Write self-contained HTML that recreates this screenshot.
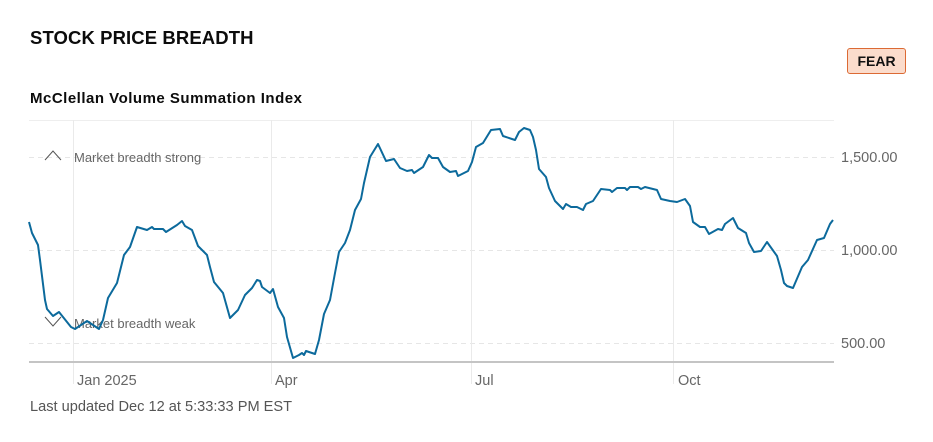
<!DOCTYPE html>
<html><head><meta charset="utf-8"><style>
body{margin:0;background:#fff;width:933px;height:442px;overflow:hidden;font-family:"Liberation Sans",Arial,sans-serif;position:relative}
.t{position:absolute;left:30px;top:27px;font-size:18.5px;font-weight:bold;color:#0c0c0c;letter-spacing:0.1px}
.fear{position:absolute;left:847px;top:48px;width:59px;height:26px;box-sizing:border-box;background:#fbdccc;border:1px solid #dc6a34;border-radius:3px;font-size:14px;font-weight:bold;text-align:center;line-height:24px;color:#111}
.s{position:absolute;left:30px;top:90px;font-size:15px;font-weight:bold;color:#0c0c0c;letter-spacing:0.5px}
.f{position:absolute;left:30px;top:399px;font-size:14.6px;color:#555}
</style></head><body>
<div class="t">STOCK PRICE BREADTH</div>
<div class="fear">FEAR</div>
<div class="s">McClellan Volume Summation Index</div>
<svg width="933" height="442" style="position:absolute;left:0;top:0">
<line x1="29" y1="120.5" x2="834" y2="120.5" stroke="#eee"/>
<g stroke="#e6e6e6" stroke-dasharray="5,4"><line x1="29" y1="157.5" x2="834" y2="157.5"/><line x1="29" y1="250.5" x2="834" y2="250.5"/><line x1="29" y1="343.5" x2="834" y2="343.5"/></g>
<g stroke="#eaeaea"><line x1="73.5" y1="120" x2="73.5" y2="384"/><line x1="271.5" y1="120" x2="271.5" y2="384"/><line x1="471.5" y1="120" x2="471.5" y2="384"/><line x1="673.5" y1="120" x2="673.5" y2="384"/></g>
<line x1="29" y1="362" x2="834" y2="362" stroke="#c4c4c4" stroke-width="2"/>
<polyline fill="none" stroke="#555" stroke-width="1" points="45,160 53,151 61,160"/>
<polyline fill="none" stroke="#555" stroke-width="1" points="45,317 53,326 61,317"/>
<g font-size="13" fill="#666"><text x="74" y="162">Market breadth strong</text><text x="74" y="328">Market breadth weak</text></g>
<polyline fill="none" stroke="#0c6a9c" stroke-width="2" stroke-linejoin="round" points="29,222 32,233 38,245 40,260 45,300 47,309 53,316 59,312 71,327 75,329 87,321 99,329 103,320 108,298 117,283 124,255 130,247 137,227 147,230 152,227 154,229 163,229 166,232 177,225 182,221 185,226 192,230 198,246 207,255 210,267 214,282 223,293 230,318 238,310 245,295 252,288 257,280 260,281 262,287 270,293 273,289 278,307 284,318 287,337 293,358 299,355 302,353 304,355 306,351 315,354 319,340 324,314 330,300 335,273 339,252 345,243 350,230 355,210 361,199 364,183 370,157 378,144 386,161 394,159 400,168 407,171 412,170 414,173 423,167 429,155 432,158 438,158 443,167 450,172 456,171 458,176 468,171 472,162 476,147 483,143 491,130 500,129 503,136 515,140 519,132 524,128 530,130 533,137 536,150 539,169 546,177 549,188 555,201 563,209 566,204 571,207 577,207 583,210 586,204 593,201 601,189 610,190 612,192 617,188 625,188 627,190 630,187 638,187 641,189 645,187 657,190 661,199 670,201 677,202 685,199 690,206 693,222 700,227 705,227 709,234 718,229 722,230 725,224 733,218 738,228 746,233 749,243 754,252 761,251 767,242 777,256 781,270 784,283 787,286 793,288 802,267 808,260 817,240 824,238 830,224 833,220"/>
<g font-size="14.5" fill="#666"><text x="841" y="162">1,500.00</text><text x="841" y="255">1,000.00</text><text x="841" y="348">500.00</text>
<text x="77" y="385">Jan 2025</text><text x="275" y="385">Apr</text><text x="475" y="385">Jul</text><text x="678" y="385">Oct</text></g>
</svg>
<div class="f">Last updated Dec 12 at 5:33:33 PM EST</div>
</body></html>
